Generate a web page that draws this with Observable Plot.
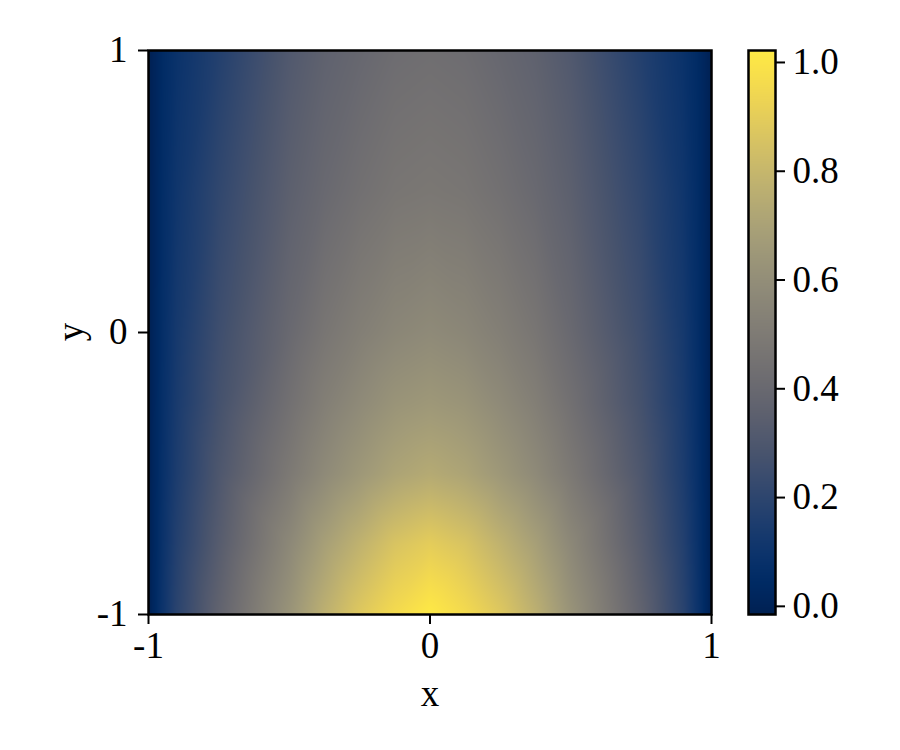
<!DOCTYPE html>
<html>
<head>
<meta charset="utf-8">
<script src="https://cdn.jsdelivr.net/npm/d3@7"></script>
<script src="https://cdn.jsdelivr.net/npm/@observablehq/plot@0.6"></script>
<style>
  body { margin: 0; background: #fff; }
  #fig { position: relative; width: 900px; height: 750px; font-family: "Liberation Serif", serif; }
  #fig svg { position: absolute; top: 0; overflow: visible; }
</style>
</head>
<body>
<div id="fig"></div>
<script>
// Sample positions
const xs = [-1, -0.95, -0.9, -0.75, -0.5, -0.375, -0.25, -0.125, 0, 0.125, 0.25, 0.375, 0.5, 0.75, 0.9, 0.95, 1];
const ys = [-1, -0.75, -0.5, -0.25, 0, 0.5, 1];
// Field values (one row per y, one column per x), estimated from the colours
const rowYm100 = [-0.015, 0.10, 0.19, 0.37, 0.63, 0.77, 0.88, 0.96, 1.02, 0.96, 0.88, 0.77, 0.63, 0.37, 0.19, 0.10, -0.015];
const rowYm075 = [-0.015, 0.09, 0.17, 0.33, 0.57, 0.69, 0.78, 0.86, 0.90, 0.86, 0.78, 0.69, 0.57, 0.33, 0.17, 0.09, -0.015];
const rowYm050 = [-0.015, 0.08, 0.15, 0.30, 0.49, 0.58, 0.65, 0.71, 0.74, 0.71, 0.65, 0.58, 0.49, 0.30, 0.15, 0.08, -0.015];
const rowYm025 = [-0.015, 0.075, 0.14, 0.27, 0.44, 0.52, 0.58, 0.63, 0.65, 0.63, 0.58, 0.52, 0.44, 0.27, 0.14, 0.075, -0.015];
const rowY000  = [-0.015, 0.07, 0.13, 0.25, 0.40, 0.47, 0.52, 0.56, 0.58, 0.56, 0.52, 0.47, 0.40, 0.25, 0.13, 0.07, -0.015];
const rowY050  = [-0.015, 0.06, 0.11, 0.21, 0.35, 0.40, 0.44, 0.47, 0.48, 0.47, 0.44, 0.40, 0.35, 0.21, 0.11, 0.06, -0.015];
const rowY100  = [-0.015, 0.05, 0.09, 0.17, 0.31, 0.36, 0.39, 0.42, 0.43, 0.42, 0.39, 0.36, 0.31, 0.17, 0.09, 0.05, -0.015];
const rows = [rowYm100, rowYm075, rowYm050, rowYm025, rowY000, rowY050, rowY100];

const xTicks = [-1, 0, 1];
const yTicks = [-1, 0, 1];
const cbTicks = [0.0, 0.2, 0.4, 0.6, 0.8, 1.0];
const vmin = -0.015, vmax = 1.022;

const points = ys.flatMap((y, i) => xs.map((x, j) => ({x, y, v: rows[i][j]})));

const font = "'Liberation Serif', serif";
const colorScale = {type: "linear", scheme: "cividis", domain: [vmin, vmax]};

const main = Plot.plot({
  width: 730, height: 750,
  marginLeft: 148, marginRight: 19, marginTop: 50, marginBottom: 136,
  style: {fontFamily: font, fontSize: "37px", background: "transparent", color: "#000"},
  x: {domain: [-1, 1]},
  y: {domain: [-1, 1]},
  color: colorScale,
  marks: [
    Plot.raster(points, {x: "x", y: "y", fill: "v", interpolate: "barycentric", x1: -1, x2: 1, y1: -1, y2: 1}),
    Plot.frame({stroke: "#000", strokeWidth: 2.5}),
    Plot.axisX(xTicks, {tickSize: 10, tickPadding: 7, strokeWidth: 2, fontSize: 37, tickFormat: d => String(d), label: null}),
    Plot.axisY(yTicks, {tickSize: 10, tickPadding: 11, strokeWidth: 2, fontSize: 37, tickFormat: d => String(d), label: null})
  ]
});

const bar = Plot.plot({
  width: 170, height: 750,
  marginLeft: 48, marginRight: 95, marginTop: 50, marginBottom: 136,
  style: {fontFamily: font, fontSize: "37px", background: "transparent", color: "#000"},
  x: {domain: [0, 1], axis: null},
  y: {domain: [vmin, vmax]},
  color: colorScale,
  marks: [
    Plot.raster({fill: (x, y) => y, x1: 0, x2: 1, y1: vmin, y2: vmax}),
    Plot.frame({stroke: "#000", strokeWidth: 2.5}),
    Plot.axisY(cbTicks, {anchor: "right", tickSize: 9, tickPadding: 8, strokeWidth: 2, fontSize: 37, tickFormat: d3.format(".1f"), label: null})
  ]
});

main.style.left = "0px";
bar.style.left = "700px";
const fig = document.getElementById("fig");
fig.appendChild(main);
fig.appendChild(bar);

const svg = d3.select(main);
svg.append("text").attr("x", 430).attr("y", 706).attr("text-anchor", "middle")
  .attr("font-family", font).attr("font-size", 37).attr("fill", "#000").text("x");
svg.append("text").attr("transform", "translate(83,332) rotate(-90)").attr("text-anchor", "middle")
  .attr("font-family", font).attr("font-size", 37).attr("fill", "#000").text("y");
</script>
</body>
</html>
